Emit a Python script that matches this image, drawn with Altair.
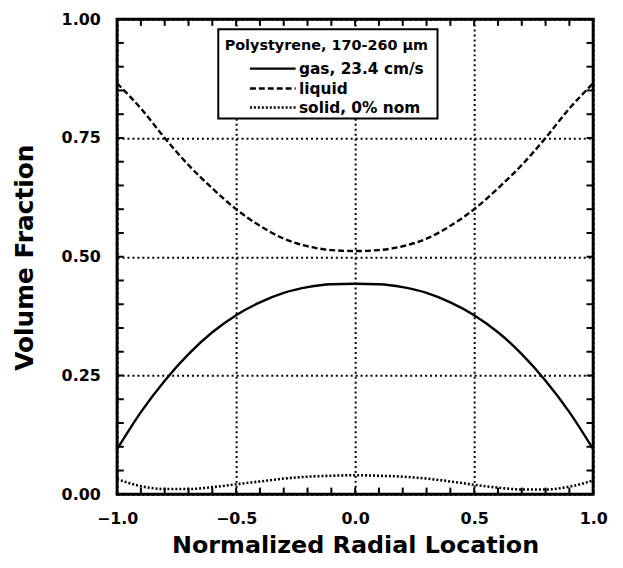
import altair as alt
import pandas as pd

# ---- data ----
r_pos = [-1.0, -0.9, -0.8, -0.7, -0.6, -0.5, -0.4, -0.3, -0.2, -0.1, 0.0,
         0.1, 0.2, 0.3, 0.4, 0.5, 0.6, 0.7, 0.8, 0.9, 1.0]
gas = [0.095, 0.173, 0.239, 0.295, 0.341, 0.377, 0.404, 0.424, 0.436, 0.442, 0.443,
       0.442, 0.436, 0.424, 0.404, 0.377, 0.341, 0.295, 0.239, 0.173, 0.095]
liquid = [0.865, 0.812, 0.750, 0.693, 0.644, 0.600, 0.565, 0.538, 0.522, 0.514, 0.512,
          0.514, 0.522, 0.538, 0.565, 0.600, 0.644, 0.693, 0.750, 0.812, 0.865]
solid = [0.032, 0.017, 0.011, 0.011, 0.015, 0.021, 0.027, 0.033, 0.037, 0.039, 0.040,
         0.039, 0.037, 0.033, 0.027, 0.020, 0.014, 0.010, 0.010, 0.016, 0.029]

x_ticks = [-1.0, -0.5, 0.0, 0.5, 1.0]
y_ticks = [0.0, 0.25, 0.5, 0.75, 1.0]
x_minor = [-0.9, -0.8, -0.7, -0.6, -0.5, -0.4, -0.3, -0.2, -0.1, 0.0,
           0.1, 0.2, 0.3, 0.4, 0.5, 0.6, 0.7, 0.8, 0.9]
y_minor = [0.05, 0.10, 0.15, 0.20, 0.25, 0.30, 0.35, 0.40, 0.45, 0.50,
           0.55, 0.60, 0.65, 0.70, 0.75, 0.80, 0.85, 0.90, 0.95]

legend_title = "Polystyrene, 170-260 \u03bcm"
legend_labels = ["gas, 23.4 cm/s", "liquid", "solid, 0% nom"]

FONT = "DejaVu Sans"

xs = alt.Scale(domain=[-1, 1], nice=False, zero=False)
ys = alt.Scale(domain=[0, 1], nice=False, zero=False)

df = pd.DataFrame({"r": r_pos, "gas": gas, "liquid": liquid, "solid": solid})

xaxis = alt.Axis(values=x_ticks, format=".1f", title="Normalized Radial Location",
                 grid=True, gridDash=[2, 3], gridColor="black", gridWidth=2, gridOpacity=1,
                 ticks=False, domain=False, labelFlush=False, labelFont=FONT, labelFontWeight="bold",
                 labelFontSize=16, labelColor="black", labelPadding=16,
                 titleFont=FONT, titleFontWeight="bold", titleFontSize=24, titleColor="black",
                 titleBaseline="middle", titleY=52)
yaxis = alt.Axis(values=y_ticks, format=".2f", title="Volume Fraction",
                 grid=True, gridDash=[2, 3], gridColor="black", gridWidth=2, gridOpacity=1,
                 ticks=False, domain=False, labelFlush=False, labelFont=FONT, labelFontWeight="bold",
                 labelFontSize=16, labelColor="black", labelPadding=17,
                 titleFont=FONT, titleFontWeight="bold", titleFontSize=25, titleColor="black",
                 titleBaseline="middle", titleX=-93, titleY=240, titleAngle=-90, titleAlign="center")


def X(field, axis=None):
    if axis is None:
        return alt.X(field, scale=xs)
    return alt.X(field, scale=xs, axis=axis)


def Y(field, axis=None):
    if axis is None:
        return alt.Y(field, scale=ys)
    return alt.Y(field, scale=ys, axis=axis)


base = alt.Chart(df)

gas_line = base.mark_line(color="black", strokeWidth=2.4, interpolate="monotone").encode(
    x=X("r:Q", xaxis), y=Y("gas:Q", yaxis))
liq_line = base.mark_line(color="black", strokeWidth=2.4, strokeDash=[6, 3], interpolate="monotone").encode(
    x=X("r:Q"), y=Y("liquid:Q"))
sol_line = base.mark_line(color="black", strokeWidth=2.6, strokeDash=[2, 2], interpolate="monotone").encode(
    x=X("r:Q"), y=Y("solid:Q"))

# inward minor ticks drawn as thin filled rectangles (in data units)
LX = 0.014   # tick length along y (fraction of y range)
LY = 0.028   # tick length along x (x range is 2)
HW_X = 0.0042  # half tick width along x
HW_Y = 0.0021  # half tick width along y
E = 0.002
rows = []
for v in x_minor:
    rows.append({"a": v - HW_X, "b": v + HW_X, "c": E, "d": LX})
    rows.append({"a": v - HW_X, "b": v + HW_X, "c": 1.0 - LX, "d": 1.0 - E})
for v in y_minor:
    rows.append({"a": -1.0 + 2 * E, "b": -1.0 + LY, "c": v - HW_Y, "d": v + HW_Y})
    rows.append({"a": 1.0 - LY, "b": 1.0 - 2 * E, "c": v - HW_Y, "d": v + HW_Y})
ticks = alt.Chart(pd.DataFrame(rows)).mark_rect(fill="black", stroke=None).encode(
    x=X("a:Q"), x2="b:Q", y=Y("c:Q"), y2="d:Q")

# legend box
box_df = pd.DataFrame({"x1": [-0.575], "x2": [0.346], "y1": [0.791], "y2": [0.979]})
box = alt.Chart(box_df).mark_rect(fill="white", stroke="black", strokeWidth=2).encode(
    x=X("x1:Q"), x2="x2:Q", y=Y("y1:Q"), y2="y2:Q")

title_df = pd.DataFrame({"x": [-0.548], "y": [0.944], "t": [legend_title]})
ltitle = alt.Chart(title_df).mark_text(align="left", baseline="middle", font=FONT,
                                       fontWeight="bold", fontSize=14.5, color="black").encode(
    x=X("x:Q"), y=Y("y:Q"), text="t:N")

row_y = [0.896, 0.854, 0.814]
lab_df = pd.DataFrame({"x": [-0.236] * 3, "y": row_y, "t": legend_labels})
llabels = alt.Chart(lab_df).mark_text(align="left", baseline="middle", font=FONT,
                                      fontWeight="bold", fontSize=15.5, color="black").encode(
    x=X("x:Q"), y=Y("y:Q"), text="t:N")

styles = [([], 2.4), ([6, 3], 2.4), ([2, 2], 2.6)]
samples = []
for (dash, w), yy in zip(styles, row_y):
    sdf = pd.DataFrame({"x": [-0.442, -0.25], "y": [yy, yy]})
    kw = {"strokeDash": dash} if dash else {}
    samples.append(alt.Chart(sdf).mark_line(color="black", strokeWidth=w, **kw).encode(
        x=X("x:Q"), y=Y("y:Q")))

chart = alt.layer(gas_line, liq_line, sol_line, ticks,
                  box, ltitle, llabels, *samples).properties(
    width=480, height=479,
    autosize=alt.AutoSizeParams(type="none"),
    padding={"left": 110, "top": 9, "right": 22, "bottom": 64},
    background="white",
).configure_view(stroke="black", strokeWidth=3)

chart.save("out.html", embed_options={"renderer": "svg", "actions": False})
